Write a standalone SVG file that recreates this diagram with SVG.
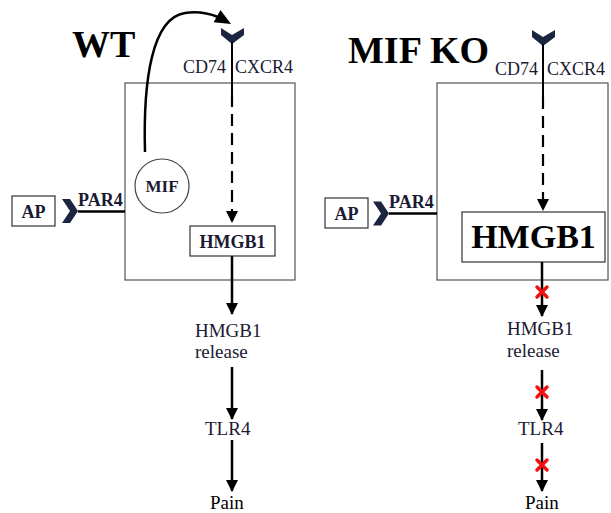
<svg xmlns="http://www.w3.org/2000/svg" width="611" height="513" viewBox="0 0 611 513">
<defs>
<marker id="ah" viewBox="0 0 12 12" refX="11" refY="6" markerWidth="12" markerHeight="12" markerUnits="userSpaceOnUse" orient="auto">
<path d="M0,0 L12,6 L0,12 Z" fill="#000"/>
</marker>
<polygon id="chevD" points="-11,-7 0,0 12,-7 12,0 0,9 -11,0" fill="#1b2440"/>
<polygon id="chevR" points="-16,-12 -8,-12 0,0 -8,12 -16,12 -8,0" fill="#1b2440"/>
<path id="rx" d="M-5,-5 L5,5 M5,-5 L-5,5" stroke="#f01010" stroke-width="3.5" stroke-linecap="round"/>
</defs>

<g font-family="Liberation Serif" fill="#1a1a33">
<text font-weight="bold" x="72" y="57" font-size="38" fill="#000">WT</text>
<text font-weight="bold" x="348" y="63" font-size="38" fill="#000">MIF KO</text>

<!-- WT -->
<g id="wt-cell"><rect x="125" y="83" width="170" height="197" fill="none" stroke="#555" stroke-width="1.2"/></g>
<g id="wt-receptor">
<use href="#chevD" x="232" y="35"/>
<text x="183" y="73" font-size="18">CD74</text>
<text x="235" y="73" font-size="18">CXCR4</text>
</g>
<g id="wt-mif">
<circle cx="162" cy="186" r="27" fill="#fff" stroke="#444" stroke-width="1.2"/>
<text font-weight="bold" x="162" y="192" font-size="17" text-anchor="middle">MIF</text>
</g>
<g id="wt-hmgb1">
<rect x="190" y="226" width="85" height="30" fill="#fff" stroke="#333" stroke-width="1.2"/>
<text font-weight="bold" x="232.5" y="248" font-size="18" text-anchor="middle">HMGB1</text>
</g>
<g id="wt-ap">
<rect x="12" y="196" width="43" height="30" fill="#fff" stroke="#333" stroke-width="1.2"/>
<text font-weight="bold" x="33.5" y="218" font-size="18" text-anchor="middle">AP</text>
</g>
<g id="wt-par4">
<use href="#chevR" x="78" y="211"/>
<text font-weight="bold" x="78" y="206" font-size="18">PAR4</text>
</g>
<g id="wt-release"><text x="195" y="337" font-size="19">HMGB1</text><text x="195" y="358" font-size="19">release</text></g>
<g id="wt-tlr4"><text x="205" y="435" font-size="19">TLR4</text></g>
<g id="wt-pain"><text x="210" y="509" font-size="19" fill="#000">Pain</text></g>

<!-- MIF KO -->
<g id="ko-cell"><rect x="437" y="83" width="171" height="197" fill="none" stroke="#555" stroke-width="1.2"/></g>
<g id="ko-receptor">
<use href="#chevD" x="543" y="37"/>
<text x="495" y="75" font-size="18">CD74</text>
<text x="547" y="75" font-size="18">CXCR4</text>
</g>
<g id="ko-hmgb1">
<rect x="462" y="212" width="143" height="50" fill="#fff" stroke="#333" stroke-width="1.2"/>
<text font-weight="bold" x="533.5" y="248" font-size="34" text-anchor="middle" fill="#000">HMGB1</text>
</g>
<g id="ko-ap">
<rect x="325" y="198" width="43" height="30" fill="#fff" stroke="#333" stroke-width="1.2"/>
<text font-weight="bold" x="346.5" y="220" font-size="18" text-anchor="middle">AP</text>
</g>
<g id="ko-par4">
<use href="#chevR" x="389" y="213.5"/>
<text font-weight="bold" x="389" y="208" font-size="18">PAR4</text>
</g>
<g id="ko-release"><text x="507" y="335" font-size="19">HMGB1</text><text x="507" y="357" font-size="19">release</text></g>
<g id="ko-tlr4"><text x="518" y="435" font-size="19">TLR4</text></g>
<g id="ko-pain"><text x="525" y="509" font-size="19" fill="#000">Pain</text></g>
</g>

<g id="connectors" stroke="#000" stroke-width="2.5" fill="none">
<!-- WT -->
<path d="M145,152 C143,80 152,18 185,13 C198,11 208,13 218,17"/>
<polygon points="231,24 213.7,22.3 220.5,10.1" fill="#000" stroke="none"/>
<line x1="232" y1="42" x2="232" y2="95" stroke-width="2"/>
<line x1="232" y1="95" x2="232" y2="222" stroke-width="2.2" stroke-dasharray="12 7" marker-end="url(#ah)"/>
<line x1="78" y1="211.5" x2="125" y2="211.5"/>
<line x1="232" y1="256" x2="232" y2="314" marker-end="url(#ah)"/>
<line x1="232" y1="367" x2="232" y2="419" marker-end="url(#ah)"/>
<line x1="232" y1="440" x2="232" y2="491" marker-end="url(#ah)"/>
<!-- KO -->
<line x1="543" y1="44" x2="543" y2="97" stroke-width="2"/>
<line x1="543" y1="97" x2="543" y2="210" stroke-width="2.2" stroke-dasharray="12 7" marker-end="url(#ah)"/>
<line x1="389" y1="213.5" x2="437" y2="213.5"/>
<line x1="542" y1="262" x2="542" y2="316" marker-end="url(#ah)"/>
<line x1="542" y1="370" x2="542" y2="420" marker-end="url(#ah)"/>
<line x1="542" y1="443" x2="542" y2="491" marker-end="url(#ah)"/>
<g id="blocks">
<use href="#rx" x="542" y="292"/>
<use href="#rx" x="542" y="392"/>
<use href="#rx" x="542" y="465"/>
</g>
</g>
</svg>
